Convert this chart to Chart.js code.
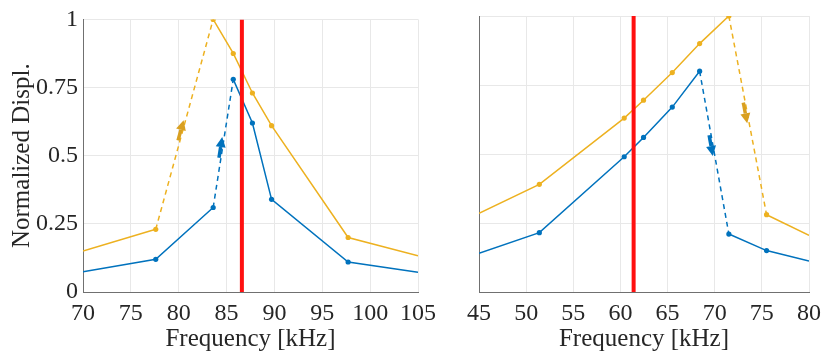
<!DOCTYPE html>
<html>
<head>
<meta charset="UTF-8">
<title>Normalized Displacement vs Frequency</title>
<script src="https://cdn.jsdelivr.net/npm/chart.js"></script>
<style>
    body { margin: 0; background: #fff; }
    #wrap { position: relative; width: 828px; height: 354px; }
    #leftBox { position: absolute; left: 0; top: 0; width: 445px; height: 354px; }
    #rightBox { position: absolute; left: 445px; top: 0; width: 383px; height: 354px; }
</style>
</head>
<body>
<div id="wrap">
    <div id="leftBox"><canvas id="leftChart" width="445" height="354"></canvas></div>
    <div id="rightBox"><canvas id="rightChart" width="383" height="354"></canvas></div>
</div>
<script>
    // left panel - upward sweep
    const leftFreq = [70, 77.6, 83.6, 85.7, 87.7, 89.7, 97.7, 105];
    const leftBlue = [0.074, 0.12, 0.31, 0.78, 0.62, 0.34, 0.11, 0.072];
    const leftOrange = [0.15, 0.23, 1.0, 0.875, 0.73, 0.61, 0.20, 0.133];
    const leftRed = 86.6;
    const leftTicks = [70, 75, 80, 85, 90, 95, 100, 105];

    // right panel - downward sweep
    const rightFreq = [45, 51.4, 60.4, 62.45, 65.5, 68.4, 71.5, 75.5, 80];
    const rightBlue = [0.14, 0.215, 0.49, 0.56, 0.67, 0.8, 0.21, 0.15, 0.112];
    const rightOrange = [0.285, 0.39, 0.63, 0.695, 0.795, 0.9, 1.0, 0.28, 0.205];
    const rightRed = 61.4;
    const rightTicks = [45, 50, 55, 60, 65, 70, 75, 80];

    const yTicks = [0, 0.25, 0.5, 0.75, 1];

    const BLUE = '#0072BD';
    const ORANGE = '#EDB120';
    const RED = '#FF1010';
    const FONT = "'Liberation Serif', 'Times New Roman', serif";
    const TXT = '#262626';

    const toPts = (xs, ys) => xs.map((x, i) => ({ x: x, y: ys[i] }));

    // arrows drawn along the dashed jump segments
    const arrowPlugin = {
        id: 'jumpArrows',
        afterDatasetsDraw(chart, args, opts) {
            const ctx = chart.ctx;
            (opts.list || []).forEach(a => {
                const meta = chart.getDatasetMeta(a.ds);
                const p0 = meta.data[a.seg], p1 = meta.data[a.seg + 1];
                const dx = p1.x - p0.x, dy = p1.y - p0.y;
                const L = Math.hypot(dx, dy);
                const ux = dx / L, uy = dy / L;
                const tipX = p0.x + dx * a.t - 2, tipY = p0.y + dy * a.t;
                const len = 21, head = 10, hw = 5;
                ctx.save();
                ctx.strokeStyle = a.color;
                ctx.fillStyle = a.color;
                ctx.lineWidth = 3.5;
                ctx.beginPath();
                ctx.moveTo(tipX - ux * len, tipY - uy * len);
                ctx.lineTo(tipX - ux * head, tipY - uy * head);
                ctx.stroke();
                ctx.beginPath();
                ctx.moveTo(tipX, tipY);
                ctx.lineTo(tipX - ux * head - uy * hw, tipY - uy * head + ux * hw);
                ctx.lineTo(tipX - ux * head + uy * hw, tipY - uy * head - ux * hw);
                ctx.closePath();
                ctx.fill();
                ctx.restore();
            });
        }
    };

    function makePanel(id, freq, blue, orange, blueDash, orangeDash, redX, ticks, showY, yWidth, padRight, arrows) {
        const xMin = ticks[0], xMax = ticks[ticks.length - 1];
        const radius = c => (c.raw && (c.raw.x <= xMin || c.raw.x >= xMax)) ? 0 : 2.6;
        const dashFor = idx => ({ borderDash: c => c.p0DataIndex === idx ? [5, 4] : undefined });
        new Chart(document.getElementById(id), {
            type: 'scatter',
            data: {
                datasets: [
                    {
                        data: [{ x: redX, y: 0 }, { x: redX, y: 1 }],
                        showLine: true, borderColor: RED, borderWidth: 4,
                        pointRadius: 0, order: 0
                    },
                    {
                        data: toPts(freq, blue),
                        showLine: true, borderColor: BLUE, backgroundColor: BLUE,
                        borderWidth: 1.5, pointRadius: radius, pointBorderWidth: 0,
                        segment: dashFor(blueDash), order: 1
                    },
                    {
                        data: toPts(freq, orange),
                        showLine: true, borderColor: ORANGE, backgroundColor: ORANGE,
                        borderWidth: 1.5, pointRadius: radius, pointBorderWidth: 0,
                        segment: dashFor(orangeDash), order: 2
                    }
                ]
            },
            options: {
                responsive: false,
                animation: false,
                layout: { padding: { top: 16, right: padRight, bottom: 0, left: 0 } },
                plugins: {
                    legend: { display: false },
                    tooltip: { enabled: false },
                    jumpArrows: { list: arrows }
                },
                scales: {
                    x: {
                        type: 'linear', min: xMin, max: xMax,
                        afterBuildTicks: s => { s.ticks = ticks.map(v => ({ value: v })); },
                        afterFit: s => { s.height = 62; },
                        grid: { color: '#e8e8e8', drawTicks: false },
                        border: { color: '#707070', width: 1 },
                        ticks: { color: TXT, padding: 7, maxRotation: 0, font: { family: FONT, size: 24 } },
                        title: {
                            display: true, text: 'Frequency [kHz]', color: TXT,
                            padding: { top: 0, bottom: 0 }, font: { family: FONT, size: 25 }
                        }
                    },
                    y: {
                        min: 0, max: 1,
                        afterBuildTicks: s => { s.ticks = yTicks.map(v => ({ value: v })); },
                        afterFit: s => { s.width = yWidth; },
                        grid: { color: '#e8e8e8', drawTicks: false },
                        border: { color: '#707070', width: 1 },
                        ticks: {
                            display: showY, color: TXT, padding: 5,
                            callback: v => String(v),
                            font: { family: FONT, size: 24 }
                        },
                        title: {
                            display: showY, text: 'Normalized Displ.', color: TXT,
                            padding: { top: 7, bottom: 0 }, font: { family: FONT, size: 25 }
                        }
                    }
                }
            },
            plugins: [arrowPlugin]
        });
    }

    makePanel('leftChart', leftFreq, leftBlue, leftOrange, 2, 1, leftRed, leftTicks, true, 83, 27, [
        { ds: 2, seg: 1, t: 0.52, color: '#D9A021' },
        { ds: 1, seg: 2, t: 0.55, color: BLUE }
    ]);
    makePanel('rightChart', rightFreq, rightBlue, rightOrange, 5, 6, rightRed, rightTicks, false, 34, 14, [
        { ds: 1, seg: 5, t: 0.52, color: BLUE },
        { ds: 2, seg: 6, t: 0.54, color: '#D9A021' }
    ]);
</script>
</body>
</html>
